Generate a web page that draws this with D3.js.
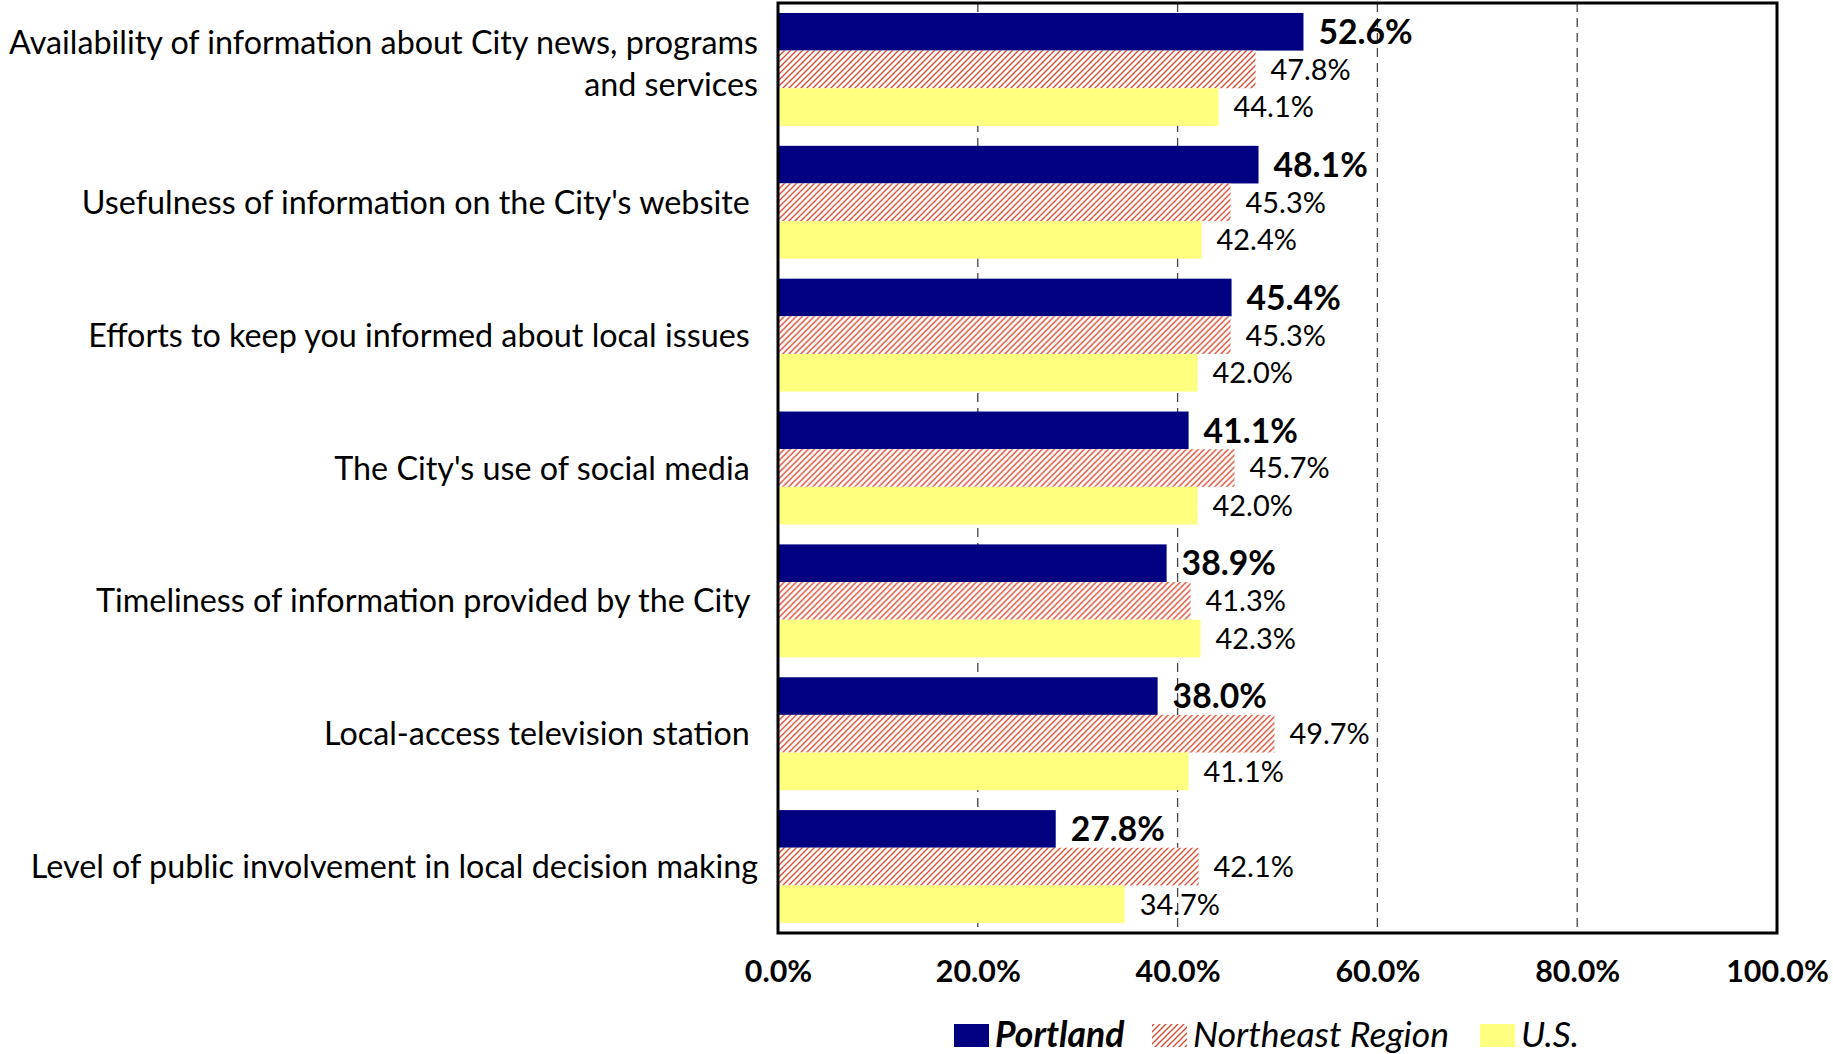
<!DOCTYPE html>
<html><head><meta charset="utf-8">
<script src="https://cdn.jsdelivr.net/npm/d3@7"></script>
<style>
html,body{margin:0;padding:0;background:#fff;}
svg text{font-family:Lato,"Open Sans",sans-serif;fill:#000;white-space:pre;}
</style></head>
<body><svg id="chart" width="1833" height="1054"></svg>
<script>
const categories = [
  "Availability of information about City news, programs|and services",
  "Usefulness of information on the City's website ",
  "Efforts to keep you informed about local issues ",
  "The City's use of social media ",
  "Timeliness of information provided by the City ",
  "Local-access television station ",
  "Level of public involvement in local decision making"
];
const seriesNames = ["Portland", "Northeast Region", "U.S."];
const portland  = [52.6, 48.1, 45.4, 41.1, 38.9, 38.0, 27.8];
const northeast = [47.8, 45.3, 45.3, 45.7, 41.3, 49.7, 42.1];
const us        = [44.1, 42.4, 42.0, 42.0, 42.3, 41.1, 34.7];
const tickValues = [0, 20, 40, 60, 80, 100];
const tickLabels = ["0.0%", "20.0%", "40.0%", "60.0%", "80.0%", "100.0%"];

const seriesValues = [portland, northeast, us];
const svg = d3.select("#chart");

const pL = 778, pR = 1777, pT = 3, pB = 933;
const x = d3.scaleLinear().domain([0, 100]).range([pL, pR]);
const y = d3.scaleBand().domain(categories).range([pT, pB]).paddingInner(0.15).paddingOuter(0.075);
const ys = d3.scaleBand().domain(seriesNames).range([0, y.bandwidth()]);

const defs = svg.append("defs");
const pat = defs.append("pattern").attr("id", "hatch").attr("patternUnits", "userSpaceOnUse")
  .attr("width", 6).attr("height", 6);
pat.append("rect").attr("width", 6).attr("height", 6).attr("fill", "#fff");
pat.append("path").attr("d", "M-1,7 L7,-1 M-4,4 L4,-4 M2,10 L10,2")
  .attr("stroke", "#d9452b").attr("stroke-width", 1.3);

const fills = ["#000080", "url(#hatch)", "#FFFF80"];

// gridlines
svg.append("g").selectAll("line").data(tickValues.slice(1, -1)).join("line")
  .attr("x1", d => x(d)).attr("x2", d => x(d)).attr("y1", pT).attr("y2", pB)
  .attr("stroke", "#444").attr("stroke-width", 1.3).attr("stroke-dasharray", "9,6");

// bars
categories.forEach((c, i) => {
  const g = svg.append("g").attr("transform", `translate(0,${y(c)})`);
  seriesNames.forEach((s, j) => {
    const v = seriesValues[j][i];
    g.append("rect").attr("x", x(0)).attr("y", ys(s)).attr("width", x(v) - x(0))
      .attr("height", ys.bandwidth()).attr("fill", fills[j]);
  });
});

// value labels
categories.forEach((c, i) => {
  const g = svg.append("g").attr("transform", `translate(0,${y(c)})`);
  seriesNames.forEach((s, j) => {
    const v = seriesValues[j][i];
    g.append("text").attr("x", x(v) + 15).attr("y", ys(s) + ys.bandwidth() / 2)
      .attr("dy", "0.36em")
      .attr("font-size", j === 0 ? 33.7 : 28.9)
      .attr("font-weight", j === 0 ? 700 : 400)
      .text(v.toFixed(1) + "%");
  });
});

// frame
svg.append("rect").attr("x", pL).attr("y", pT).attr("width", pR - pL).attr("height", pB - pT)
  .attr("fill", "none").attr("stroke", "#000").attr("stroke-width", 3);

// category labels
categories.forEach((c) => {
  const lines = c.split("|");
  const cy = y(c) + y.bandwidth() / 2;
  const lh = 42;
  const t = svg.append("text").attr("text-anchor", "end").attr("font-size", 32.3);
  lines.forEach((ln, k) => {
    t.append("tspan").attr("x", 758)
      .attr("y", cy + (k - (lines.length - 1) / 2) * lh - (lines.length > 1 ? 6 : 0))
      .attr("dy", "0.36em").text(ln);
  });
});

// x axis
const xAxis = d3.axisBottom(x).tickValues(tickValues).tickFormat((d, i) => tickLabels[i]).tickSize(0).tickPadding(0);
const ax = svg.append("g").attr("transform", `translate(0,${pB})`).call(xAxis);
ax.select(".domain").remove();
ax.selectAll("text").attr("font-size", 30.4).attr("font-weight", 700).attr("y", 38).attr("dy", "0.36em")
  .style("font-family", "Lato, sans-serif").attr("fill", "#000");

// legend
const legendItems = [
  {name: seriesNames[0], fill: fills[0], sx: 954, weight: 700},
  {name: seriesNames[1], fill: fills[1], sx: 1152, weight: 400},
  {name: seriesNames[2], fill: fills[2], sx: 1480, weight: 400}
];
const lg = svg.append("g");
legendItems.forEach(it => {
  lg.append("rect").attr("x", it.sx).attr("y", 1024).attr("width", 35).attr("height", 23).attr("fill", it.fill);
  lg.append("text").attr("x", it.sx + 41).attr("y", 1034).attr("dy", "0.36em")
    .attr("font-size", 35.5).attr("font-style", "italic").attr("font-weight", it.weight).text(it.name);
});
</script>
</body></html>
